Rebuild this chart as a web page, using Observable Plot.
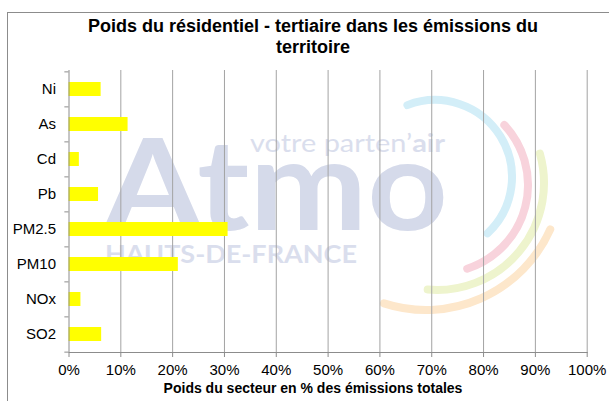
<!DOCTYPE html>
<html>
<head>
<meta charset="utf-8">
<script src="https://cdn.jsdelivr.net/npm/d3@7"></script>
<script src="https://cdn.jsdelivr.net/npm/@observablehq/plot@0.6"></script>
<style>
  html, body { margin: 0; padding: 0; background: #fff; }
  body { font-family: "Liberation Sans", Arial, sans-serif; }
  #wrap { position: relative; width: 609px; height: 401px; overflow: hidden; background: #fff; }
  #frame { position: absolute; left: 7px; top: 12px; width: 640px; height: 440px;
           border-top: 1px solid #8c8c8c; border-left: 1px solid #8c8c8c; }
  #title { position: absolute; left: 0; top: 16px; width: 626px; text-align: center;
           font-weight: bold; font-size: 18px; line-height: 21px; color: #000; }
  #xlabel { position: absolute; left: 0; top: 379px; width: 626px; text-align: center;
            font-weight: bold; font-size: 14px; line-height: 18px; color: #000; }
  #wm { position: absolute; left: 0; top: 0; }
  #chart { position: absolute; left: 0; top: 0; }
</style>
</head>
<body>
<div id="wrap">
  <svg id="wm" width="609" height="401"></svg>
  <div id="frame"></div>
  <div id="title">Poids du résidentiel - tertiaire dans les émissions du<br>territoire</div>
  <div id="chart"></div>
  <div id="xlabel">Poids du secteur en % des émissions totales</div>
</div>
<script>
// ---- data ----
const categories = ["Ni", "As", "Cd", "Pb", "PM2.5", "PM10", "NOx", "SO2"];
const values = [6.2, 11.4, 2.0, 5.7, 30.7, 21.1, 2.3, 6.3];
const xTicks = [0, 10, 20, 30, 40, 50, 60, 70, 80, 90, 100];
const xTickLabels = ["0%", "10%", "20%", "30%", "40%", "50%", "60%", "70%", "80%", "90%", "100%"];

const rows = categories.map((c, i) => ({category: c, value: values[i]}));

// ---- layout ----
const W = 609, H = 401;
const mt = 70, mb = 49, ml = 68.5, mr = 22.3;
const step = (H - mt - mb) / categories.length;
const axisColor = "#8c8c8c";
const gridColor = "#a3a3a3";

// ---- watermark (decorative logo behind the chart) ----
(function drawWatermark() {
  const svg = d3.select("#wm");
  const font = "Lato, 'Open Sans', sans-serif";
  svg.append("text").attr("x", 104).attr("y", 230)
    .attr("font-family", font).attr("font-weight", 700).attr("font-size", 126)
    .attr("textLength", 344).attr("lengthAdjust", "spacingAndGlyphs")
    .attr("fill", "#d5daea").text("Atmo");
  const t = svg.append("text").attr("x", 250).attr("y", 152)
    .attr("font-family", font).attr("font-size", 25)
    .attr("textLength", 195).attr("lengthAdjust", "spacingAndGlyphs")
    .attr("fill", "#dadeed");
  t.append("tspan").text("votre parten’");
  t.append("tspan").attr("font-weight", 700).text("air");
  svg.append("text").attr("x", 105).attr("y", 263)
    .attr("font-family", font).attr("font-weight", 700).attr("font-size", 25)
    .attr("textLength", 252).attr("lengthAdjust", "spacingAndGlyphs")
    .attr("fill", "#dadeed").text("HAUTS-DE-FRANCE");
  const arcs = [
    {cx: 435, cy: 177, r: 77, a0: -111, a1: 47, color: "#d3eef8"},
    {cx: 440, cy: 185, r: 88, a0: -43, a1: 72, color: "#f8d3dc"},
    {cx: 437, cy: 183, r: 107, a0: -16, a1: 95, color: "#eef4cd"},
    {cx: 426, cy: 174, r: 136, a0: 24, a1: 108, color: "#fde7cb"}
  ];
  const rad = Math.PI / 180;
  for (const a of arcs) {
    const x0 = a.cx + a.r * Math.cos(a.a0 * rad), y0 = a.cy + a.r * Math.sin(a.a0 * rad);
    const x1 = a.cx + a.r * Math.cos(a.a1 * rad), y1 = a.cy + a.r * Math.sin(a.a1 * rad);
    const large = (a.a1 - a.a0) > 180 ? 1 : 0;
    svg.append("path")
      .attr("d", `M${x0},${y0}A${a.r},${a.r} 0 ${large} 1 ${x1},${y1}`)
      .attr("fill", "none").attr("stroke", a.color).attr("stroke-width", 8)
      .attr("stroke-linecap", "round");
  }
})();

// ---- chart ----
const chart = Plot.plot({
  width: W,
  height: H,
  marginTop: mt,
  marginBottom: mb,
  marginLeft: ml,
  marginRight: mr,
  style: {background: "transparent", fontFamily: "'Liberation Sans', Arial, sans-serif", fontSize: "15px", color: "#000"},
  x: {domain: [0, 100], ticks: xTicks, tickFormat: (d) => xTickLabels[xTicks.indexOf(d)]},
  y: {domain: categories, paddingInner: 0.6, paddingOuter: 0.3},
  marks: [
    Plot.gridX(xTicks.slice(1), {stroke: gridColor, strokeOpacity: 1}),
    Plot.barX(rows, {x: "value", y: "category", fill: "#ffff00"}),
    Plot.ruleX([0], {stroke: axisColor}),
    Plot.frame({anchor: "bottom", stroke: axisColor}),
    Plot.axisX({ticks: xTicks, tickSize: 5, tickPadding: 7, stroke: axisColor, label: null,
                tickFormat: (d) => xTickLabels[xTicks.indexOf(d)]}),
    Plot.axisY({tickSize: 0, tickPadding: 13, label: null}),
    Plot.ruleY(categories, {y: (d) => d, x1: -0.8, x2: 0, dy: -step / 2, stroke: axisColor, clip: false}),
    Plot.ruleY(categories.slice(-1), {y: (d) => d, x1: -0.8, x2: 0, dy: step / 2, stroke: axisColor, clip: false})
  ]
});
document.getElementById("chart").appendChild(chart);
</script>
</body>
</html>
